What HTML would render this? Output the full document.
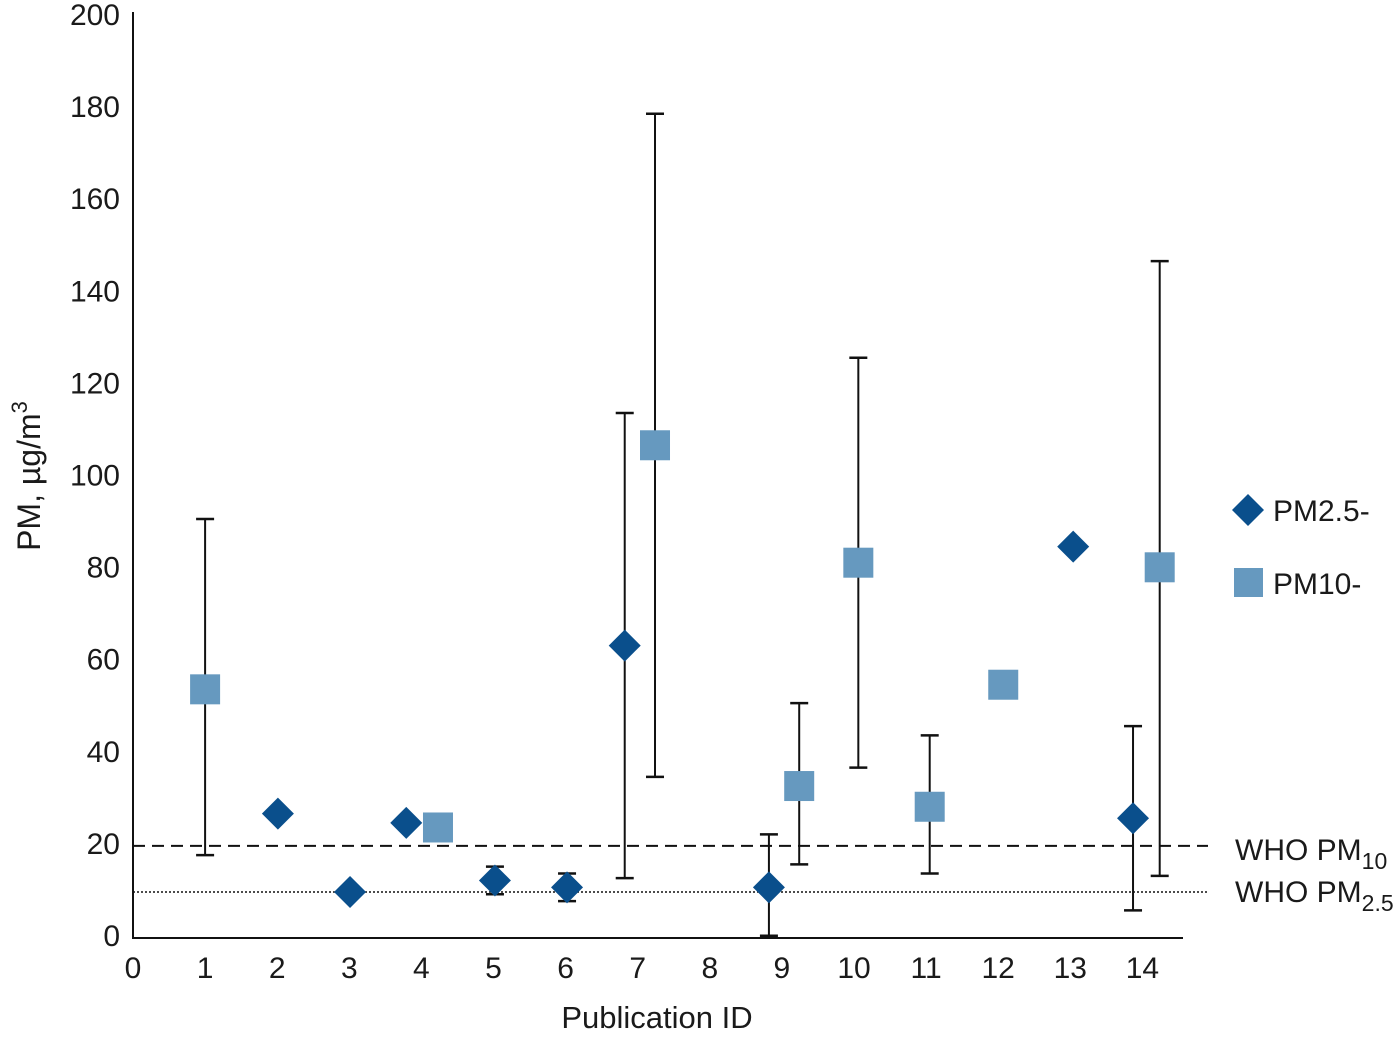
<!DOCTYPE html>
<html><head><meta charset="utf-8"><style>
html,body{margin:0;padding:0;background:#fff;}
svg{display:block;font-family:"Liberation Sans",sans-serif;}
text{fill:#1a1a1a;}
</style></head><body>
<svg id="chart" width="1400" height="1038" viewBox="0 0 1400 1038" xmlns="http://www.w3.org/2000/svg">
</svg>
<script>
const xTicks = [0,1,2,3,4,5,6,7,8,9,10,11,12,13,14];
const yTicks = [0,20,40,60,80,100,120,140,160,180,200];
const pm25X = [2.01,3.01,3.79,5.02,6.02,6.82,8.82,13.04,13.87];
const pm25Val = [27,10,25,12.5,11,63.5,11,85,26];
const pm25Lo = [null,null,null,9.5,8,13,0.5,null,6];
const pm25Hi = [null,null,null,15.5,14,114,22.5,null,46];
const pm10X = [1.0,4.23,7.24,9.24,10.06,11.05,12.07,14.24];
const pm10Val = [54,24,107,33,81.5,28.5,55,80.5];
const pm10Lo = [18,null,35,16,37,14,null,13.5];
const pm10Hi = [91,null,179,51,126,44,null,147];
const whoPM10 = 20;
const whoPM25 = 10;

const NS='http://www.w3.org/2000/svg';
const svg=document.getElementById('chart');
const X0=133, XS=72.1, Y0=938, YS=4.605;
const sx=v=>X0+v*XS, sy=v=>Y0-v*YS;
function mk(tag,attrs,parent){const e=document.createElementNS(NS,tag);for(const k in attrs)e.setAttribute(k,attrs[k]);(parent||svg).appendChild(e);return e;}

let ax=mk('line',{x1:X0,y1:12,x2:X0,y2:Y0+1,stroke:'#111','stroke-width':2});


ax=mk('line',{x1:X0-1,y1:Y0,x2:1183,y2:Y0,stroke:'#111','stroke-width':2});



yTicks.forEach(t=>{const e=mk('text',{x:120,y:sy(t)+8,'text-anchor':'end','font-size':30});e.textContent=t;

});
xTicks.forEach(t=>{const e=mk('text',{x:sx(t),y:978,'text-anchor':'middle','font-size':30});e.textContent=t;

});

let t=mk('text',{x:657,y:1028,'text-anchor':'middle','font-size':31});t.textContent='Publication ID';


t=mk('text',{x:0,y:0,'text-anchor':'middle','font-size':32,transform:'translate(40,476) rotate(-90)'});
t.innerHTML='PM, µg/m<tspan dy="-13" font-size="22">3</tspan>';



let l=mk('line',{x1:X0,y1:sy(whoPM10),x2:1208,y2:sy(whoPM10),stroke:'#111','stroke-width':2,'stroke-dasharray':'12,7'});


l=mk('line',{x1:X0,y1:sy(whoPM25),x2:1208,y2:sy(whoPM25),stroke:'#111','stroke-width':1.5,'stroke-dasharray':'2,2'});


t=mk('text',{x:1235,y:sy(whoPM10)+14,'font-size':30});t.innerHTML='WHO PM<tspan dy="9" font-size="23">10</tspan>';


t=mk('text',{x:1235,y:sy(whoPM25)+10,'font-size':30});t.innerHTML='WHO PM<tspan dy="9" font-size="23">2.5</tspan>';



function errbar(x,lo,hi){
  const g=mk('g',{});
  
  
  mk('line',{x1:sx(x),y1:sy(lo),x2:sx(x),y2:sy(hi),stroke:'#111','stroke-width':2},g);
  mk('line',{x1:sx(x)-9,y1:sy(lo),x2:sx(x)+9,y2:sy(lo),stroke:'#111','stroke-width':2.5},g);
  mk('line',{x1:sx(x)-9,y1:sy(hi),x2:sx(x)+9,y2:sy(hi),stroke:'#111','stroke-width':2.5},g);
}
pm10X.forEach((x,i)=>{if(pm10Lo[i]!==null)errbar(x,pm10Lo[i],pm10Hi[i]);});
pm25X.forEach((x,i)=>{if(pm25Lo[i]!==null)errbar(x,pm25Lo[i],pm25Hi[i]);});

pm10X.forEach((x,i)=>{const cx=sx(x),cy=sy(pm10Val[i]);
 const r=mk('rect',{x:cx-15,y:cy-15,width:30,height:30,fill:'#6699bf'});
 
 });
pm25X.forEach((x,i)=>{const cx=sx(x),cy=sy(pm25Val[i]);
 const p=mk('polygon',{points:`${cx},${cy-16} ${cx+16},${cy} ${cx},${cy+16} ${cx-16},${cy}`,fill:'#0a4f8c'});
 
 });

const lg=mk('g',{});


mk('polygon',{points:'1248,494 1264,510 1248,526 1232,510',fill:'#0a4f8c'},lg);
t=mk('text',{x:1273,y:521,'font-size':30},lg);t.textContent='PM2.5-';


mk('rect',{x:1234,y:568,width:29,height:29,fill:'#6699bf'},lg);
t=mk('text',{x:1273,y:594,'font-size':30},lg);t.textContent='PM10-';


</script>
</body></html>
